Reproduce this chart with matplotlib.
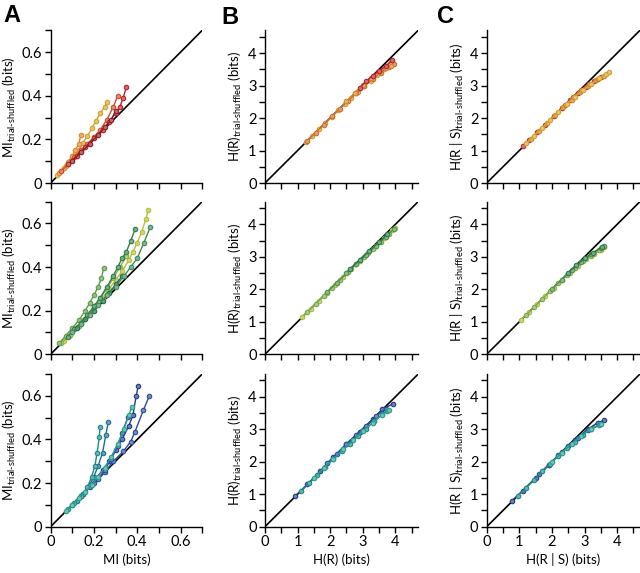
import matplotlib
matplotlib.use("Agg")
import matplotlib.pyplot as plt
import matplotlib.colors as mcolors
from matplotlib.ticker import MultipleLocator

plt.rcParams['font.family'] = ['Lato', 'DejaVu Sans']
plt.rcParams['mathtext.fontset'] = 'custom'
plt.rcParams['mathtext.rm'] = 'Lato'
plt.rcParams['mathtext.it'] = 'Lato:italic'
plt.rcParams['mathtext.bf'] = 'Lato:bold'

# ---- data: column A, mutual information (bits) ----
top_mi_x = [
    [0.03, 0.05, 0.07, 0.09, 0.11, 0.13, 0.15, 0.17, 0.19, 0.21, 0.23, 0.25, 0.26],
    [0.04, 0.06, 0.08, 0.10, 0.115, 0.13, 0.14],
    [0.05, 0.08, 0.11, 0.14, 0.17, 0.20, 0.23, 0.26, 0.29, 0.31],
    [0.08, 0.12, 0.16, 0.20, 0.24, 0.27, 0.30, 0.32, 0.335, 0.35],
    [0.10, 0.14, 0.18, 0.22, 0.25, 0.28, 0.30],
]
top_mi_y = [
    [0.035, 0.055, 0.08, 0.10, 0.125, 0.15, 0.185, 0.215, 0.25, 0.285, 0.32, 0.35, 0.37],
    [0.045, 0.07, 0.095, 0.125, 0.15, 0.18, 0.22],
    [0.055, 0.085, 0.12, 0.15, 0.18, 0.21, 0.245, 0.29, 0.35, 0.40],
    [0.085, 0.125, 0.165, 0.205, 0.245, 0.28, 0.32, 0.35, 0.39, 0.44],
    [0.10, 0.14, 0.18, 0.22, 0.255, 0.29, 0.33],
]
mid_mi_x = [
    [0.06, 0.09, 0.12, 0.15, 0.18, 0.21, 0.24, 0.27, 0.30, 0.33, 0.36, 0.38, 0.40, 0.42, 0.44, 0.45],
    [0.05, 0.09, 0.13, 0.17, 0.20, 0.23, 0.26, 0.29, 0.32, 0.35],
    [0.04, 0.07, 0.10, 0.13, 0.16, 0.18, 0.20, 0.22, 0.235, 0.245],
    [0.08, 0.11, 0.14, 0.17, 0.20, 0.23, 0.26, 0.29, 0.31, 0.33, 0.35, 0.37, 0.39],
    [0.12, 0.16, 0.20, 0.24, 0.27, 0.30, 0.33],
    [0.10, 0.14, 0.18, 0.22, 0.26, 0.30, 0.34, 0.37, 0.40, 0.43, 0.46],
]
mid_mi_y = [
    [0.06, 0.09, 0.125, 0.155, 0.19, 0.225, 0.26, 0.30, 0.34, 0.38, 0.43, 0.47, 0.51, 0.56, 0.62, 0.66],
    [0.05, 0.09, 0.13, 0.175, 0.215, 0.26, 0.30, 0.35, 0.40, 0.45],
    [0.05, 0.085, 0.12, 0.155, 0.20, 0.235, 0.27, 0.31, 0.35, 0.396],
    [0.08, 0.115, 0.145, 0.18, 0.22, 0.26, 0.31, 0.36, 0.40, 0.44, 0.47, 0.52, 0.573],
    [0.12, 0.16, 0.20, 0.245, 0.28, 0.32, 0.357],
    [0.10, 0.14, 0.18, 0.225, 0.27, 0.31, 0.36, 0.40, 0.44, 0.51, 0.583],
]
bot_mi_x = [
    [0.10, 0.14, 0.18, 0.21, 0.24, 0.27, 0.30, 0.33, 0.36, 0.38, 0.395, 0.405],
    [0.15, 0.20, 0.25, 0.29, 0.335, 0.37, 0.389, 0.428, 0.455],
    [0.14, 0.18, 0.22, 0.25, 0.28, 0.31, 0.33, 0.358],
    [0.12, 0.15, 0.18, 0.20, 0.22, 0.24, 0.255, 0.266],
    [0.08, 0.11, 0.14, 0.17, 0.19, 0.205, 0.215, 0.225, 0.228],
    [0.07, 0.10, 0.13, 0.16, 0.19, 0.22, 0.25, 0.28, 0.31, 0.34, 0.36, 0.377],
]
bot_mi_y = [
    [0.10, 0.14, 0.185, 0.22, 0.26, 0.30, 0.35, 0.40, 0.46, 0.51, 0.60, 0.647],
    [0.15, 0.20, 0.25, 0.30, 0.345, 0.39, 0.434, 0.533, 0.598],
    [0.14, 0.18, 0.22, 0.26, 0.31, 0.37, 0.43, 0.505],
    [0.12, 0.15, 0.19, 0.23, 0.28, 0.34, 0.42, 0.479],
    [0.08, 0.11, 0.14, 0.18, 0.23, 0.28, 0.34, 0.41, 0.456],
    [0.07, 0.10, 0.13, 0.16, 0.19, 0.23, 0.27, 0.32, 0.38, 0.45, 0.51, 0.551],
]

# ---- data: column B, response entropy H(R) (bits) ----
top_hr_x = [
    [1.25, 1.45, 1.65, 1.85, 2.05, 2.25, 2.45, 2.65, 2.85, 3.05, 3.25, 3.45, 3.65, 3.85],
    [1.3, 1.55, 1.8, 2.05, 2.3, 2.55, 2.8, 3.05, 3.3, 3.55, 3.8, 3.95],
    [2.5, 2.75, 3.0, 3.25, 3.5, 3.7, 3.85],
    [2.9, 3.1, 3.3, 3.5, 3.7, 3.9],
]
top_hr_y = [
    [1.25, 1.45, 1.65, 1.85, 2.04, 2.24, 2.44, 2.63, 2.81, 2.98, 3.15, 3.32, 3.5, 3.72],
    [1.3, 1.55, 1.8, 2.05, 2.29, 2.53, 2.76, 2.98, 3.2, 3.4, 3.58, 3.65],
    [2.51, 2.77, 3.02, 3.24, 3.43, 3.55, 3.6],
    [2.93, 3.13, 3.3, 3.46, 3.6, 3.78],
]
mid_hr_x = [
    [1.15, 1.4, 1.65, 1.9, 2.15, 2.4, 2.65, 2.9, 3.15, 3.4, 3.65, 3.9, 4.0],
    [1.3, 1.55, 1.8, 2.05, 2.3, 2.55, 2.8, 3.05, 3.3, 3.55, 3.8],
    [1.9, 2.2, 2.5, 2.8, 3.1, 3.4, 3.7, 3.95],
    [2.6, 2.9, 3.2, 3.5, 3.75],
]
mid_hr_y = [
    [1.15, 1.4, 1.65, 1.9, 2.14, 2.39, 2.63, 2.87, 3.11, 3.34, 3.58, 3.82, 3.9],
    [1.3, 1.55, 1.8, 2.04, 2.29, 2.53, 2.77, 3.0, 3.23, 3.46, 3.7],
    [1.91, 2.2, 2.49, 2.78, 3.06, 3.34, 3.62, 3.85],
    [2.62, 2.9, 3.18, 3.46, 3.7],
]
bot_hr_x = [
    [0.93, 1.3, 1.7, 2.1, 2.5, 2.9, 3.3, 3.6, 3.93],
    [1.9, 2.2, 2.5, 2.8, 3.1, 3.4, 3.7],
    [1.1, 1.35, 1.6, 1.85, 2.1, 2.35, 2.6, 2.85, 3.1, 3.35, 3.6, 3.75],
    [1.5, 1.8, 2.1, 2.4, 2.7, 3.0, 3.3, 3.6, 3.8],
]
bot_hr_y = [
    [0.95, 1.3, 1.72, 2.13, 2.55, 2.93, 3.3, 3.62, 3.78],
    [1.95, 2.25, 2.55, 2.83, 3.1, 3.4, 3.62],
    [1.1, 1.35, 1.59, 1.84, 2.08, 2.32, 2.56, 2.79, 3.02, 3.24, 3.46, 3.56],
    [1.5, 1.8, 2.09, 2.38, 2.66, 2.94, 3.2, 3.45, 3.6],
]

# ---- data: column C, noise entropy H(R|S) (bits) ----
top_hrs_x = [
    [1.1, 1.3, 1.55, 1.8, 2.05, 2.3, 2.55, 2.8, 3.05, 3.3, 3.5],
    [1.35, 1.6, 1.85, 2.1, 2.35, 2.6, 2.85, 3.1, 3.35, 3.6],
    [2.4, 2.65, 2.9, 3.15, 3.4],
    [1.2, 1.45, 1.7, 1.95, 2.2, 2.45, 2.7, 2.95, 3.2, 3.45, 3.65, 3.76],
]
top_hrs_y = [
    [1.14, 1.32, 1.56, 1.8, 2.05, 2.3, 2.54, 2.76, 2.96, 3.14, 3.26],
    [1.36, 1.6, 1.85, 2.1, 2.34, 2.57, 2.79, 2.99, 3.17, 3.3],
    [2.41, 2.65, 2.86, 3.05, 3.2],
    [1.22, 1.46, 1.7, 1.95, 2.19, 2.43, 2.66, 2.87, 3.06, 3.24, 3.36, 3.42],
]
mid_hrs_x = [
    [1.05, 1.3, 1.55, 1.8, 2.05, 2.3, 2.55, 2.8, 3.05, 3.3, 3.5, 3.6],
    [1.2, 1.45, 1.7, 1.95, 2.2, 2.45, 2.7, 2.95, 3.2, 3.45],
    [2.0, 2.3, 2.6, 2.9, 3.2, 3.5, 3.6],
    [2.5, 2.75, 3.0, 3.25, 3.55],
]
mid_hrs_y = [
    [1.06, 1.3, 1.55, 1.8, 2.04, 2.28, 2.51, 2.72, 2.92, 3.1, 3.22, 3.3],
    [1.2, 1.45, 1.7, 1.95, 2.19, 2.43, 2.65, 2.86, 3.04, 3.2],
    [2.01, 2.3, 2.58, 2.84, 3.08, 3.28, 3.33],
    [2.51, 2.74, 2.95, 3.13, 3.3],
]
bot_hrs_x = [
    [0.77, 1.1, 1.5, 1.9, 2.3, 2.7, 3.1, 3.4, 3.6],
    [1.6, 1.9, 2.2, 2.5, 2.8, 3.1, 3.4],
    [0.95, 1.2, 1.45, 1.7, 1.95, 2.2, 2.45, 2.7, 2.95, 3.2, 3.45],
    [2.0, 2.3, 2.6, 2.9, 3.2, 3.5],
]
bot_hrs_y = [
    [0.8, 1.1, 1.5, 1.9, 2.3, 2.66, 3.0, 3.2, 3.28],
    [1.62, 1.9, 2.2, 2.48, 2.74, 2.98, 3.2],
    [0.95, 1.2, 1.45, 1.7, 1.94, 2.18, 2.41, 2.62, 2.83, 3.0, 3.12],
    [2.0, 2.28, 2.55, 2.8, 3.02, 3.15],
]

# colours per row (one per series)
top_colors = ['#d4a22c', '#dc862c', '#c8502a', '#b5222b', '#8e1c22']
mid_colors = ['#b5bf3a', '#8fb04a', '#5e9b48', '#2f7f4a', '#1f6a44', '#3f8a5a']
bot_colors = ['#263a8a', '#2c4d9e', '#3050a0', '#1d6e8e', '#1c8a88', '#26a08c']
top_colors_b = ['#d49a2c', '#c8702a', '#cf862c', '#b5222b']
top_colors_c = ['#b5322b', '#cf8a2c', '#c86a2a', '#d4a22c']
mid_colors_h = ['#a9bd3e', '#7aa94a', '#4f9248', '#2a7a4a']
bot_colors_h = ['#263a8a', '#2c4d9e', '#1c8a88', '#26a08c']

panels = [
    [(top_mi_x, top_mi_y, top_colors), (top_hr_x, top_hr_y, top_colors_b), (top_hrs_x, top_hrs_y, top_colors_c)],
    [(mid_mi_x, mid_mi_y, mid_colors), (mid_hr_x, mid_hr_y, mid_colors_h), (mid_hrs_x, mid_hrs_y, mid_colors_h)],
    [(bot_mi_x, bot_mi_y, bot_colors), (bot_hr_x, bot_hr_y, bot_colors_h), (bot_hrs_x, bot_hrs_y, bot_colors_h)],
]

sub = r'$_{\text{trial-shuffled}}$'
ylabels = ['MI' + sub + ' (bits)', 'H(R)' + sub + ' (bits)', 'H(R | S)' + sub + ' (bits)']
xlabels = ['MI (bits)', 'H(R) (bits)', 'H(R | S) (bits)']
limits = [0.7, 4.7]

fig = plt.figure(figsize=(6.4, 5.73), dpi=100)
lefts = [0.079, 0.414, 0.7605]
widths = [0.237, 0.2395, 0.2395]
bottoms = [0.6806, 0.3817, 0.0808]
height = 0.2665


def lighten(c, amt=0.35):
    r, g, b = mcolors.to_rgb(c)
    return (r + (1 - r) * amt, g + (1 - g) * amt, b + (1 - b) * amt)


for row in range(3):
    for col in range(3):
        ax = fig.add_axes([lefts[col], bottoms[row], widths[col], height])
        xs, ys, cols = panels[row][col]
        lim = limits[0] if col == 0 else limits[1]
        ax.plot([0, lim], [0, lim], color='black', lw=1.2, zorder=1)
        for i, (x, y) in enumerate(zip(xs, ys)):
            c = cols[i % len(cols)]
            ax.plot(x, y, '-o', color=c, lw=1.0, ms=3.2, mew=0.8,
                    mfc=lighten(c), mec=c, zorder=2 + i)
        ax.set_xlim(0, lim)
        ax.set_ylim(0, lim)
        if col == 0:
            ax.xaxis.set_major_locator(MultipleLocator(0.2))
            ax.xaxis.set_minor_locator(MultipleLocator(0.1))
            ax.yaxis.set_major_locator(MultipleLocator(0.2))
            ax.yaxis.set_minor_locator(MultipleLocator(0.1))
            ax.xaxis.set_major_formatter(lambda v, p: '0' if abs(v) < 1e-9 else f'{v:.1f}')
            ax.yaxis.set_major_formatter(lambda v, p: '0' if abs(v) < 1e-9 else f'{v:.1f}')
        else:
            ax.xaxis.set_major_locator(MultipleLocator(1))
            ax.xaxis.set_minor_locator(MultipleLocator(0.5))
            ax.yaxis.set_major_locator(MultipleLocator(1))
            ax.yaxis.set_minor_locator(MultipleLocator(0.5))
        for s in ['top', 'right']:
            ax.spines[s].set_visible(False)
        for s in ['left', 'bottom']:
            ax.spines[s].set_linewidth(1.0)
        ax.tick_params(which='both', direction='out', length=4, width=1, labelsize=10.5, pad=2)
        ax.set_ylabel(ylabels[col], fontsize=9.5, labelpad=3)
        if row == 2:
            ax.set_xlabel(xlabels[col], fontsize=9.5, labelpad=3)
        else:
            ax.tick_params(axis='x', labelbottom=False)

for letter, xp, yp in [('A', 3, 4), ('B', 221, 6), ('C', 437, 5)]:
    fig.text(xp / 640, 1 - yp / 573, letter, fontsize=17, fontweight='bold',
             family='Liberation Sans', va='top', ha='left')

fig.savefig('out.png', dpi=100)
plt.close(fig)
